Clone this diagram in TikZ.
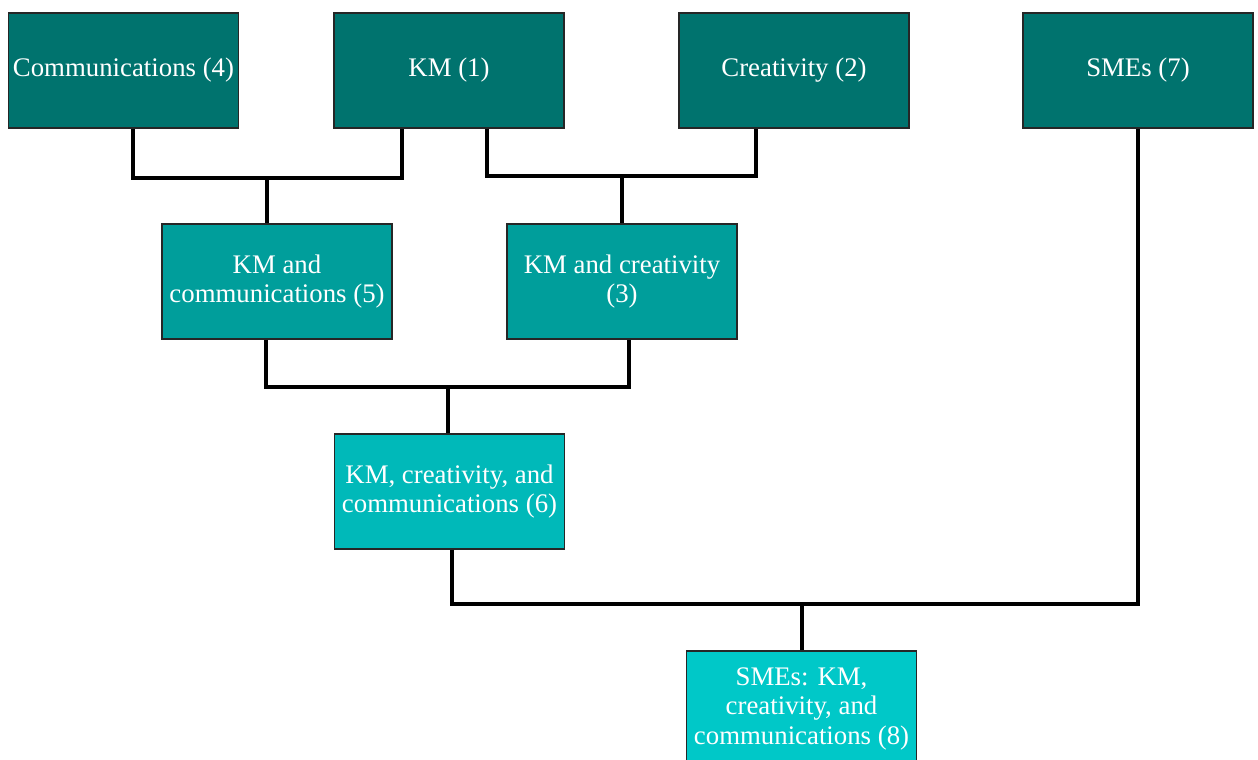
\documentclass[tikz,border=0pt]{standalone}
\usepackage{fontspec}
\setmainfont{Liberation Serif}
\newfontfamily\boxfont{Liberation Serif}
\usepackage{tikz}
\definecolor{levelA}{HTML}{00736E}
\definecolor{levelB}{HTML}{009E9B}
\definecolor{levelC}{HTML}{00B9B9}
\definecolor{levelD}{HTML}{00C8C8}
\begin{document}
\begin{tikzpicture}[x=1pt,y=-1pt,
  box/.style={draw=black!85,line width=1.5pt,text=white,align=center,
    minimum width=230pt,minimum height=115pt,inner sep=0pt,
    font=\boxfont\fontsize{26.8}{29.5}\selectfont},
  link/.style={line width=3.5pt}]
\useasboundingbox (0,0) rectangle (1258,760);
\clip (0,0) rectangle (1258,760);
  % top row
  \node[box,fill=levelA] (comm) at (123.5,70.5) {Communications (4)};
  \node[box,fill=levelA] (km) at (449,70.5) {KM (1)};
  \node[box,fill=levelA] (crea) at (794,70.5) {Creativity (2)};
  \node[box,fill=levelA] (smes) at (1138,70.5) {SMEs (7)};
  % second row
  \node[box,fill=levelB] (kmcomm) at (277,281.5) {KM and\\communications (5)};
  \node[box,fill=levelB] (kmcrea) at (622,281.5) {KM and creativity\\(3)};
  % third row
  \node[box,fill=levelC] (kmall) at (449.5,491.5) {KM, creativity, and\\communications (6)};
  \node[box,fill=levelD] (smesall) at (801.5,708.5) {SMEs: KM,\\creativity, and\\communications (8)};
  % junctions
  \coordinate (jA) at (267,178);
  \coordinate (jB) at (622,176);
  \coordinate (jC) at (448,387);
  \coordinate (jD) at (802,604);
  \draw[link] ([xshift=9.5]comm.south) |- (jA) -| ([xshift=-47]km.south);
  \draw[link] (jA) -- (kmcomm.north -| jA);
  \draw[link] ([xshift=38]km.south) |- (jB) -| ([xshift=-38]crea.south);
  \draw[link] (jB) -- (kmcrea.north);
  \draw[link] ([xshift=-11]kmcomm.south) |- (jC) -| ([xshift=7]kmcrea.south);
  \draw[link] (jC) -- (kmall.north -| jC);
  \draw[link] ([xshift=2.5]kmall.south) |- (jD) -| (smes.south);
  \draw[link] (jD) -- (smesall.north -| jD);
\end{tikzpicture}
\end{document}
